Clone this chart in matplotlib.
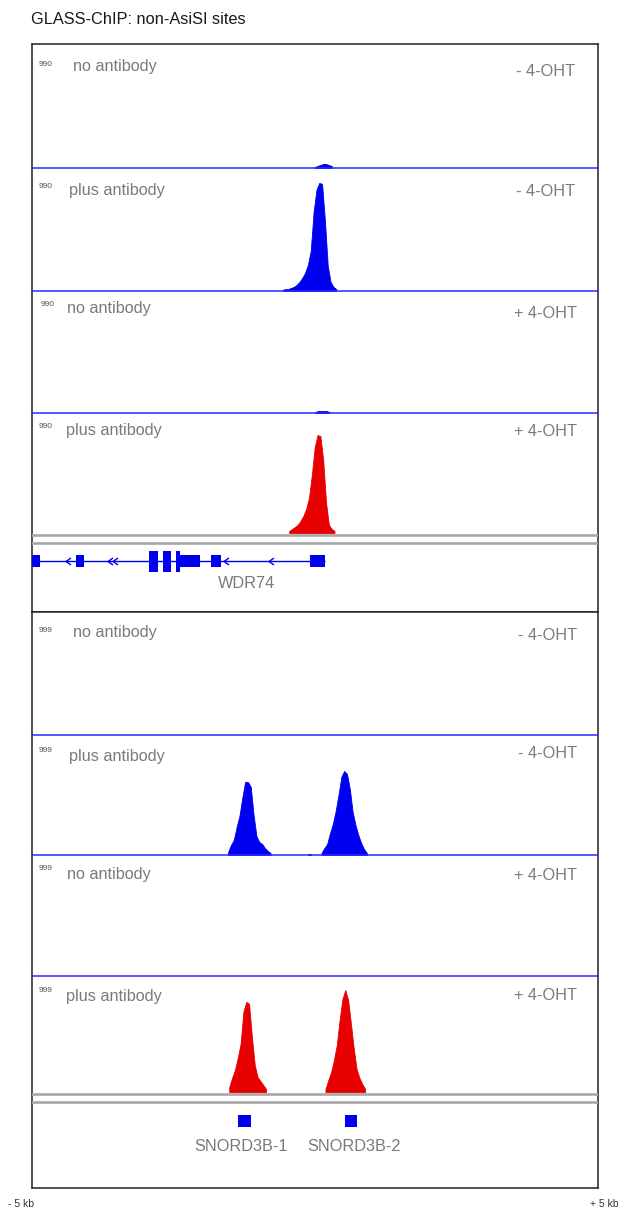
import matplotlib
matplotlib.use("Agg")
import matplotlib.pyplot as plt
import numpy as np

W, H = 618, 1211          # figure size in pixels (dpi 100)
X0, X1 = 32, 598          # left / right edge of the browser panels
BIN_KB = 0.05             # coverage bin width

# ---- coverage (reads per bin); each peak = (first bin start in kb, values) --
WDR74_NOAB_MINUS = [(-0.03, [8, 16, 24, 32, 32, 24, 16])]
WDR74_AB_MINUS = [(-0.60, [8, 16, 16, 24, 33, 49, 73, 106, 146, 211, 325,
                           634, 813, 870, 862, 569, 203, 73, 33, 16])]
WDR74_NOAB_PLUS = [(-0.02, [8, 16, 16, 16, 16, 8])]
WDR74_AB_PLUS = [(-0.48, [17, 33, 50, 67, 100, 142, 200, 292, 483, 708,
                          808, 800, 600, 250, 67, 33, 17])]

SNORD_NOAB_MINUS = []
SNORD_AB_MINUS = [
    (-1.56, [25, 83, 125, 233, 325, 475, 608, 608, 567, 333, 158, 108,
             92, 58, 33, 17]),
    (-0.14, [12, 12]),
    (0.09, [17, 58, 92, 183, 258, 367, 500, 650, 700, 675, 550, 358, 250,
            167, 100, 50, 17]),
]
SNORD_NOAB_PLUS = []
SNORD_AB_PLUS = [
    (-1.54, [43, 121, 190, 293, 414, 690, 776, 759, 474, 233, 129, 95,
             60, 26]),
    (0.16, [26, 103, 172, 276, 405, 621, 802, 879, 793, 586, 371, 198,
            121, 69, 26]),
]

# ---- gene models (kb) ------------------------------------------------------
WDR74_NAME = "WDR74"
WDR74_SPAN = (-5.0, 0.18)
WDR74_UTR = [(-5.0, -4.85), (-4.22, -4.09), (-2.39, -2.03), (-1.83, -1.66),
             (-0.09, 0.18)]
WDR74_CDS = [(-2.93, -2.77), (-2.68, -2.55), (-2.46, -2.39)]
WDR74_STRAND_MARKS = [-4.37, -3.62, -3.53, -1.58, -0.77]
SNORD_GENES = ["SNORD3B-1", "SNORD3B-2"]
SNORD_EXONS = [(-1.355, -1.136), (0.53, 0.75)]

# label anchors (kb) in the annotation strips
WDR74_LABEL_X = -1.21
SNORD_LABEL_X = [-1.31, 0.69]

BLUE = "#0000f0"
RED = "#e80000"
LINE_BLUE = "#2a2aff"
GREY_TXT = "#7a7a7a"
LABEL_FS = 11.7

# per box: scale label, frame (top, bottom), tracks, gene area
# track: (top, bottom, label, condition, color, peaks, label positions)
BOXES = [
    dict(scale=990, frame=(44, 612), gene_top=533, tracks=[
        (44, 168, "no antibody", "- 4-OHT", BLUE, WDR74_NOAB_MINUS,
         (39, 64, 73, 67, 575, 72)),
        (168, 291, "plus antibody", "- 4-OHT", BLUE, WDR74_AB_MINUS,
         (39, 186, 69, 191, 575, 191)),
        (291, 413, "no antibody", "+ 4-OHT", BLUE, WDR74_NOAB_PLUS,
         (41, 305, 67, 309, 577, 313)),
        (413, 533, "plus antibody", "+ 4-OHT", RED, WDR74_AB_PLUS,
         (39, 427, 66, 431, 577, 432)),
    ]),
    dict(scale=999, frame=(612, 1188), gene_top=1092, tracks=[
        (613, 735, "no antibody", "- 4-OHT", BLUE, SNORD_NOAB_MINUS,
         (39, 630, 73, 632, 577, 636)),
        (735, 855, "plus antibody", "- 4-OHT", BLUE, SNORD_AB_MINUS,
         (39, 750, 69, 756, 577, 753)),
        (855, 976, "no antibody", "+ 4-OHT", BLUE, SNORD_NOAB_PLUS,
         (39, 869, 67, 874, 577, 875)),
        (976, 1092, "plus antibody", "+ 4-OHT", RED, SNORD_AB_PLUS,
         (39, 991, 66, 996, 577, 995)),
    ]),
]

plt.rcParams["font.family"] = ["Liberation Sans", "DejaVu Sans"]


def px_axes(fig, x0, y0, x1, y1):
    return fig.add_axes([x0 / W, 1 - y1 / H, (x1 - x0) / W, (y1 - y0) / H])


def px_text(fig, x, y, s, **kw):
    fig.text(x / W, 1 - y / H, s, va="center", **kw)


fig = plt.figure(figsize=(W / 100, H / 100), dpi=100)
px_text(fig, 31, 20, "GLASS-ChIP: non-AsiSI sites", fontsize=11.8,
        color="#1a1a1a")

gene_axes = []
for box in BOXES:
    top, bottom = box["frame"]
    frame = px_axes(fig, X0, top, X1, bottom)
    frame.set_xticks([])
    frame.set_yticks([])
    for sp in frame.spines.values():
        sp.set_color("#222222")
        sp.set_linewidth(1.1)

    for k, (t, b, label, cond, color, peaks, pos) in enumerate(box["tracks"]):
        ax = px_axes(fig, X0, t, X1, b)
        ax.patch.set_alpha(0)
        ax.set_xlim(-5, 5)
        ax.set_ylim(0, box["scale"])
        ax.axis("off")
        for start, vals in peaks:
            centers = start + BIN_KB * (np.arange(len(vals)) + 0.5)
            ax.fill_between(centers, 0, vals, color=color, lw=0.6,
                            edgecolor=color)
        if k < 3:
            ax.axhline(0, color=LINE_BLUE, lw=1.1, clip_on=False)
        sx, sy, lx, ly, cx, cy = pos
        px_text(fig, sx, sy, str(box["scale"]), fontsize=6, color="#555555")
        px_text(fig, lx, ly, label, fontsize=LABEL_FS, color=GREY_TXT)
        px_text(fig, cx, cy, cond, fontsize=LABEL_FS, color=GREY_TXT,
                ha="right")

    # annotation strip below the tracks, y measured in px from its top
    g_top = box["gene_top"]
    gax = px_axes(fig, X0, g_top, X1, bottom)
    gax.patch.set_alpha(0)
    gax.set_xlim(-5, 5)
    gax.set_ylim(bottom - g_top, 0)
    gax.axis("off")
    gax.axhline(1.8, color="#a8a8a8", lw=1.9)
    gax.axhline(9.5, color="#a8a8a8", lw=1.9)
    gene_axes.append(gax)

# WDR74 gene model (minus strand)
gax = gene_axes[0]
yc = 28
gax.plot(WDR74_SPAN, [yc, yc], color=BLUE, lw=1.0, solid_capstyle="butt")
gax.broken_barh([(s, e - s) for s, e in WDR74_UTR], (yc - 6, 12),
                color=BLUE, lw=0)
gax.broken_barh([(s, e - s) for s, e in WDR74_CDS], (yc - 10.5, 21),
                color=BLUE, lw=0)
gax.plot(WDR74_STRAND_MARKS, [yc] * len(WDR74_STRAND_MARKS), ls="none",
         marker=[(1, 1.4), (-1, 0), (1, -1.4)], markersize=5,
         markerfacecolor="none", markeredgecolor=BLUE, markeredgewidth=1.0)
gax.text(WDR74_LABEL_X, 50.5, WDR74_NAME, ha="center", va="center",
         fontsize=LABEL_FS, color=GREY_TXT)

# SNORD3B-1 / SNORD3B-2
gax = gene_axes[1]
yc = 29
gax.broken_barh([(s, e - s) for s, e in SNORD_EXONS], (yc - 6, 12),
                color=BLUE, lw=0)
for name, lx in zip(SNORD_GENES, SNORD_LABEL_X):
    gax.text(lx, 54.5, name, ha="center", va="center",
             fontsize=LABEL_FS, color=GREY_TXT)

px_text(fig, 8, 1204, "- 5 kb", fontsize=7.5, color="#333333")
px_text(fig, 618, 1204, "+ 5 kb", fontsize=7.5, color="#333333", ha="right")

fig.savefig("out.png", dpi=100)
